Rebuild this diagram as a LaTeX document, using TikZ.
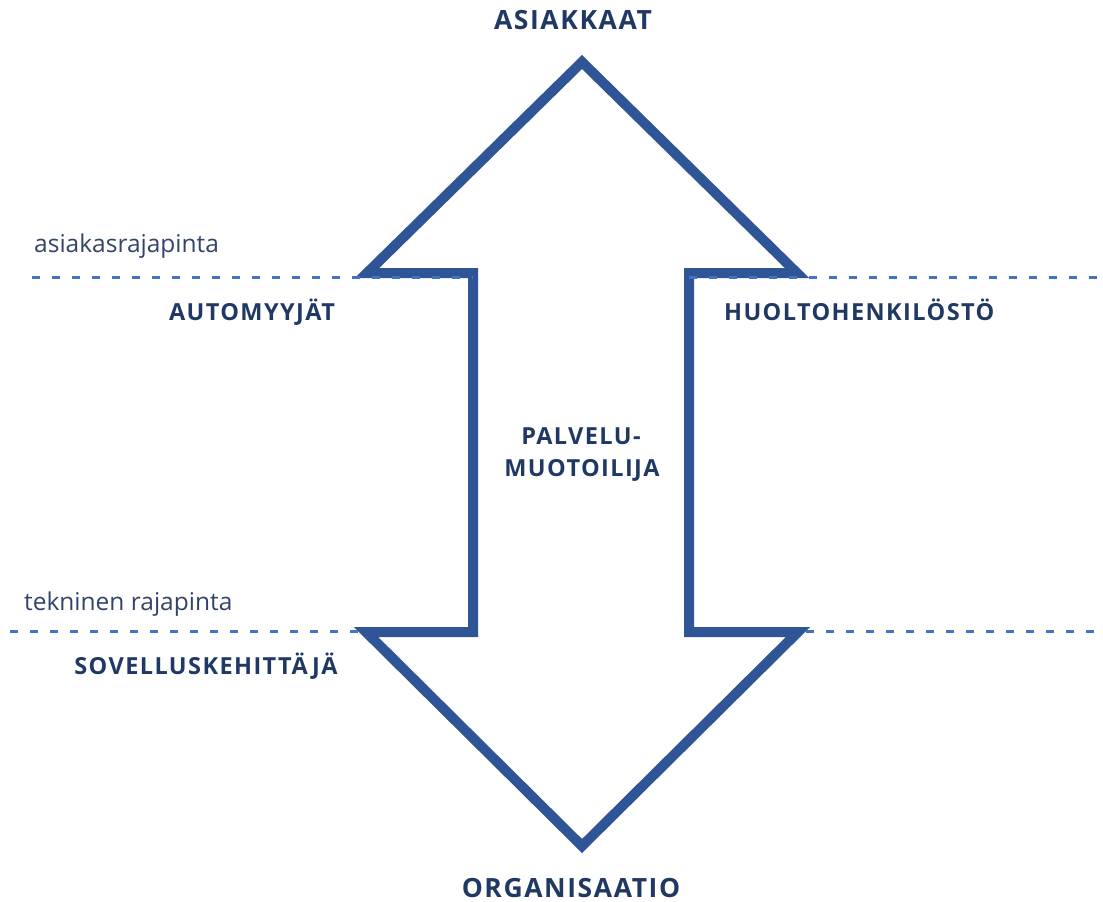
\documentclass[tikz,border=0pt]{standalone}
\usepackage{fontspec}
\setmainfont{Open Sans}
\newfontfamily\labelbold[LetterSpace=6]{Open Sans Bold}
\definecolor{arrowblue}{HTML}{2F5597}
\definecolor{dashblue}{HTML}{4472C4}
\definecolor{navy}{HTML}{1F3864}
\definecolor{slate}{HTML}{33446A}
\begin{document}
\begin{tikzpicture}[x=1pt,y=-1pt,
  role/.style={text=navy,font=\labelbold\fontsize{23.5}{28}\selectfont,inner sep=0pt},
  title/.style={text=navy,font=\labelbold\fontsize{26.5}{32}\selectfont,inner sep=0pt},
  iface/.style={text=slate,font=\fontsize{24.5}{29}\selectfont,inner sep=0pt,anchor=base west},
  border/.style={dashblue,line width=3pt,dash pattern=on 8pt off 12pt},
  bigarrow/.style={arrowblue,line width=10pt,miter limit=10,line join=miter}]
\useasboundingbox (0,0) rectangle (1103,902);

% double-headed block arrow
\draw[bigarrow] (582,62) -- (797,273) -- (689,273) -- (689,632) -- (798,632)
  -- (582,846) -- (366,632) -- (473,632) -- (473,273) -- (367,273) -- cycle;

% interface lines
\coordinate (aL) at (32,277);   \coordinate (aM) at (473,277);
\coordinate (aN) at (689,277);  \coordinate (aR) at (1103,277);
\coordinate (tL) at (10,631);   \coordinate (tM) at (358,631);
\coordinate (tN) at (806,631);  \coordinate (tR) at (1103,631);
\draw[border] (aL) -- (aM);
\draw[border] (aN) -- (aR);
\draw[border] (tL) -- (tM);
\draw[border] (tN) -- (tR);

% labels
\node[title] (asiakkaat) at (573,20) {ASIAKKAAT};
\node[role] (automyyjat) at (252,312) {AUTOMYYJÄT};
\node[role,anchor=west] (huolto) at (724,310) {HUOLTOHENKILÖSTÖ};
\node[role] (palvelu) at (581,436) {PALVELU-};
\node[role] (muotoilija) at (582,470) {MUOTOILIJA};
\node[role] (sovellus) at (206,666) {SOVELLUSKEHITTÄJÄ};
\node[title] (organisaatio) at (571,888) {ORGANISAATIO};
\node[iface] (asrp) at (34,252) {asiakasrajapinta};
\node[iface] (tekrp) at (24,610) {tekninen rajapinta};
\end{tikzpicture}
\end{document}
